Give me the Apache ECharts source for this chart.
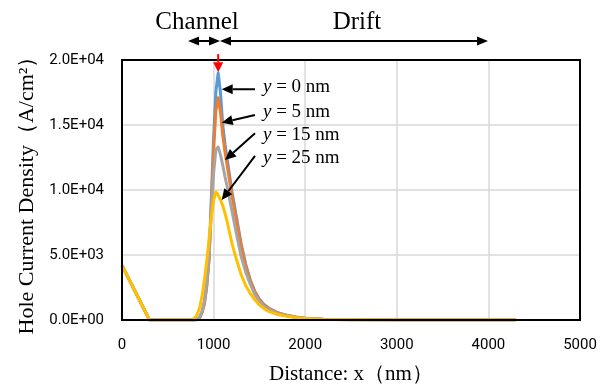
<!DOCTYPE html>
<html>
<head>
<meta charset="utf-8">
<script src="https://cdn.jsdelivr.net/npm/echarts@6/dist/echarts.min.js"></script>
<style>
  html, body { margin: 0; padding: 0; background: #fff; }
  #chart { width: 612px; height: 390px; }
</style>
</head>
<body>
<div id="chart"></div>
<script>
// Distance along the device (nm)
const xValues = [0, 300, 760, 780, 800, 825, 850, 875, 900, 925, 950, 975, 1000, 1025, 1050, 1075, 1100, 1125, 1150, 1175, 1200, 1250, 1300, 1350, 1400, 1450, 1500, 1550, 1600, 1700, 1800, 1900, 2000, 2200, 2500, 3000, 3500, 4000, 4300];

// Hole current density (A/cm^2) at four depths y
const jY0 = [4200, 0, 0, 0, 0, 50, 200, 600, 1300, 2600, 4700, 9300, 14000, 17600, 19000, 17500, 15000, 13500, 12300, 11100, 9900, 7900, 5900, 4300, 3100, 2200, 1600, 1200, 920, 560, 360, 230, 140, 55, 15, 3, 0, 0, 0];
const jY5 = [4200, 0, 0, 0, 0, 50, 200, 600, 1300, 2600, 4600, 8800, 13000, 16100, 17100, 16000, 14200, 12900, 11800, 10700, 9600, 7600, 5700, 4150, 3000, 2150, 1550, 1150, 890, 540, 350, 220, 135, 52, 14, 3, 0, 0, 0];
const jY15 = [4200, 0, 0, 0, 0, 70, 250, 700, 1500, 2900, 5000, 8300, 11300, 13100, 13300, 12700, 11900, 11000, 10200, 9300, 8400, 6600, 4900, 3700, 2750, 1950, 1420, 1060, 810, 500, 320, 200, 125, 48, 13, 3, 0, 0, 0];
const jY25 = [4200, 0, 0, 40, 200, 500, 1000, 1900, 3100, 4500, 6200, 7900, 9200, 9850, 9600, 9250, 8800, 8200, 7500, 6700, 5900, 4650, 3500, 2650, 2050, 1550, 1150, 870, 660, 420, 280, 180, 115, 45, 12, 2, 0, 0, 0];

const seriesNames = ['y = 0 nm', 'y = 5 nm', 'y = 15 nm', 'y = 25 nm'];
const seriesColors = ['#5B9BD5', '#ED7D31', '#A5A5A5', '#FFC000'];

const yTickLabels = ['0.0E+00', '5.0E+03', '1.0E+04', '1.5E+04', '2.0E+04'];
const xTickLabels = ['0', '1000', '2000', '3000', '4000', '5000'];

// Callout arrows (data coordinates): tail, tip, and label anchor
const calloutTails = [[1452, 17750], [1452, 15770], [1452, 14360], [1452, 12620]];
const calloutTips = [[1088, 17750], [1088, 15180], [1124, 12310], [1088, 9230]];
const calloutLabelPos = [[1539, 17950], [1539, 16020], [1539, 14230], [1539, 12440]];
const calloutLabels = ['0 nm', '5 nm', '15 nm', '25 nm'];

// Region arrows above the plot (x ranges in nm) and their titles
const regionLevel = 21460;
const channelRange = [721, 1070];
const driftRange = [1070, 3996];
const regionTitles = [['Channel', 819], ['Drift', 2565]];
const regionTitleLevel = 22900;

// Peak marker
const peakMarker = { x: 1050, from: 20450, to: 19050 };

const chart = echarts.init(document.getElementById('chart'), null, { renderer: 'canvas' });

const seriesData = [jY0, jY5, jY15, jY25].map(arr => arr.map((v, i) => [xValues[i], v]));

const option = {
  animation: false,
  backgroundColor: '#fff',
  grid: {
    left: 122, right: 32, top: 60, bottom: 70,
    containLabel: false, outerBoundsMode: 'none'
  },
  xAxis: {
    type: 'value', min: 0, max: 5000, interval: 1000,
    name: 'Distance: x（nm）', nameLocation: 'middle', nameGap: 44,
    nameTextStyle: { fontFamily: 'Liberation Serif', fontSize: 21, color: '#000' },
    axisLine: { show: false }, axisTick: { show: false },
    axisLabel: {
      margin: 18, fontFamily: 'Roboto', fontSize: 15, color: '#000',
      formatter: v => xTickLabels[Math.round(v / 1000)]
    },
    splitLine: { show: true, showMinLine: false, showMaxLine: false, lineStyle: { color: '#D9D9D9', width: 1.5 } }
  },
  yAxis: {
    type: 'value', min: 0, max: 20000, interval: 5000,
    name: 'Hole Current Density（A/cm²）', nameLocation: 'middle', nameGap: 83, nameRotate: 90,
    nameTextStyle: { fontFamily: 'Liberation Serif', fontSize: 22, color: '#000' },
    axisLine: { show: false }, axisTick: { show: false },
    axisLabel: {
      margin: 18, fontFamily: 'Roboto', fontSize: 15, color: '#000',
      formatter: v => yTickLabels[Math.round(v / 5000)]
    },
    splitLine: { show: true, showMinLine: false, showMaxLine: false, lineStyle: { color: '#D9D9D9', width: 1.5 } }
  },
  series: seriesData.map((d, i) => ({
    name: seriesNames[i],
    type: 'line',
    data: d,
    smooth: false,
    showSymbol: false,
    lineStyle: { color: seriesColors[i], width: 3, join: 'round' },
    itemStyle: { color: seriesColors[i] },
    z: 2 + i
  }))
};

chart.setOption(option);

// Arrow helpers (pixel space)
function arrowHead(tip, from, len, width, color) {
  const dx = tip[0] - from[0], dy = tip[1] - from[1];
  const L = Math.hypot(dx, dy) || 1;
  const ux = dx / L, uy = dy / L;
  const bx = tip[0] - ux * len, by = tip[1] - uy * len;
  const nx = -uy * width / 2, ny = ux * width / 2;
  return {
    base: [bx, by],
    el: {
      type: 'polygon', z: 20,
      shape: { points: [tip, [bx + nx, by + ny], [bx - nx, by - ny]] },
      style: { fill: color }
    }
  };
}

function singleArrow(p0, p1, color, lw, len, width) {
  const h = arrowHead(p1, p0, len, width, color);
  return [
    { type: 'line', z: 20, shape: { x1: p0[0], y1: p0[1], x2: h.base[0], y2: h.base[1] }, style: { stroke: color, lineWidth: lw } },
    h.el
  ];
}

function doubleArrow(p0, p1, color, lw, len, width) {
  const h1 = arrowHead(p1, p0, len, width, color);
  const h0 = arrowHead(p0, p1, len, width, color);
  return [
    { type: 'line', z: 20, shape: { x1: h0.base[0], y1: h0.base[1], x2: h1.base[0], y2: h1.base[1] }, style: { stroke: color, lineWidth: lw } },
    h0.el, h1.el
  ];
}

const toPx = p => chart.convertToPixel({ gridIndex: 0 }, p);

const graphics = [];

// Plot frame
const c0 = toPx([0, 0]);
const c1 = toPx([5000, 20000]);
graphics.push({
  type: 'rect', z: 15, silent: true,
  shape: { x: c0[0], y: c1[1], width: c1[0] - c0[0], height: c0[1] - c1[1] },
  style: { fill: 'none', stroke: '#000', lineWidth: 2 }
});

// Callouts for each depth
calloutTails.forEach((tail, i) => {
  graphics.push(...singleArrow(toPx(tail), toPx(calloutTips[i]), '#000', 2, 11, 10));
  const lp = toPx(calloutLabelPos[i]);
  graphics.push({
    type: 'text', z: 21, x: lp[0], y: lp[1],
    style: {
      text: '{i|y} = ' + calloutLabels[i],
      fontFamily: 'Liberation Serif', fontSize: 19, fill: '#000',
      align: 'left', verticalAlign: 'middle',
      rich: { i: { fontStyle: 'italic', fontFamily: 'Liberation Serif', fontSize: 19, fill: '#000' } }
    }
  });
});

// Channel / Drift region arrows
graphics.push(...doubleArrow(toPx([channelRange[0], regionLevel]), toPx([channelRange[1], regionLevel]), '#000', 2, 11, 9));
graphics.push(...doubleArrow(toPx([driftRange[0], regionLevel]), toPx([driftRange[1], regionLevel]), '#000', 2, 11, 9));
regionTitles.forEach(([t, x]) => {
  const p = toPx([x, regionTitleLevel]);
  graphics.push({
    type: 'text', z: 21, x: p[0], y: p[1],
    style: { text: t, fontFamily: 'Liberation Serif', fontSize: 25, fill: '#000', align: 'center', verticalAlign: 'middle' }
  });
});

// Red marker at the peak
graphics.push(...singleArrow(toPx([peakMarker.x, peakMarker.from]), toPx([peakMarker.x, peakMarker.to]), '#FF0000', 2, 10, 10));

chart.setOption({ graphic: { elements: graphics } });
</script>
</body>
</html>
